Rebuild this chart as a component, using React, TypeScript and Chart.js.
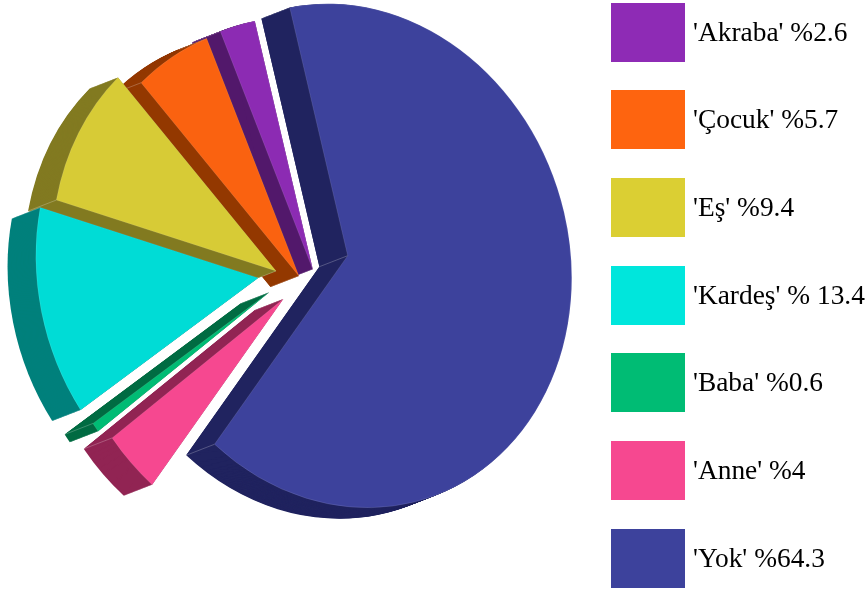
import React, { useEffect, useRef } from "react";
import { Chart, registerables } from "chart.js";

Chart.register(...registerables);

// Clockwise around the pie, starting from the largest slice.
const categories = ["Yok", "Anne", "Baba", "Kardeş", "Eş", "Çocuk", "Akraba"];
const values = [64.3, 4, 0.6, 13.4, 9.4, 5.7, 2.6];
const legendTexts = ["'Yok' %64.3", "'Anne' %4", "'Baba' %0.6", "'Kardeş' % 13.4", "'Eş' %9.4", "'Çocuk' %5.7", "'Akraba' %2.6"];
const faceColors = ["#3D429C", "#F64890", "#00BC74", "#00DCD6", "#D7CB36", "#FA6210", "#8C2BB3"];
const legendColors = ["#3D429C", "#F64890", "#00BC74", "#00E6DC", "#DBCF33", "#FE640F", "#8E2BB5"];
const sideColors = ["#20235F", "#912453", "#006B42", "#00807C", "#827A20", "#933800", "#52186B"];
// Pull-out of every slice and its size, as fractions of the radius.
const pullX = [0, -0.2875, -0.35, -0.4, -0.32, -0.218, -0.156];
const pullY = [0, 0.198, 0.177, 0.124, 0.0894, 0.1, 0.0679];
const radiusScale = [1, 0.985, 0.985, 0.992, 1, 0.998, 1];

// Projection of the flat pie on to the page.
const CENTER_X = 347.7;
const CENTER_Y = 255.7;
const AXIS_X = 224;
const SHEAR = 22.3;
const AXIS_Y = 251;
const DEPTH_X = -28.3;
const DEPTH_Y = 11;
const DEPTH_STEPS = 40;

function project(chart: any, ctx: CanvasRenderingContext2D, shiftX = 0, shiftY = 0) {
  const cx = (chart.chartArea.left + chart.chartArea.right) / 2;
  const cy = (chart.chartArea.top + chart.chartArea.bottom) / 2;
  const R = Math.min(chart.chartArea.width, chart.chartArea.height) / 2;
  const a = AXIS_X / R;
  const b = SHEAR / R;
  const d = AXIS_Y / R;
  ctx.transform(a, b, 0, d, CENTER_X + shiftX - a * cx, CENTER_Y + shiftY - b * cx - d * cy);
}

const pie3d = {
  id: "pie3d",
  beforeDatasetsDraw(chart: any) {
    const ctx: CanvasRenderingContext2D = chart.ctx;
    const arcs: any[] = chart.getDatasetMeta(0).data;
    const cx = (chart.chartArea.left + chart.chartArea.right) / 2;
    const cy = (chart.chartArea.top + chart.chartArea.bottom) / 2;
    const R = Math.min(chart.chartArea.width, chart.chartArea.height) / 2;
    arcs.forEach((arc: any, i: number) => {
      arc.x = cx + pullX[i] * R;
      arc.y = cy + pullY[i] * R;
      arc.outerRadius = R * radiusScale[i];
    });
    const toPage = (x: number, y: number) => {
      ctx.save();
      project(chart, ctx);
      const m = ctx.getTransform();
      ctx.restore();
      return [m.a * x + m.c * y + m.e, m.b * x + m.d * y + m.f];
    };
    // Side walls: the slice nearest the gap at the top goes first, so the next one lies over it.
    for (let i = arcs.length - 1; i >= 0; i--) {
      const arc = arcs[i];
      ctx.fillStyle = sideColors[i];
      for (let k = DEPTH_STEPS; k >= 1; k--) {
        ctx.save();
        project(chart, ctx, (DEPTH_X * k) / DEPTH_STEPS, (DEPTH_Y * k) / DEPTH_STEPS);
        ctx.beginPath();
        ctx.moveTo(arc.x, arc.y);
        ctx.arc(arc.x, arc.y, arc.outerRadius, arc.startAngle, arc.endAngle);
        ctx.closePath();
        ctx.fill();
        ctx.restore();
      }
      const [ax, ay] = toPage(arc.x, arc.y);
      const corners = [arc.startAngle, arc.endAngle].map((t: number) =>
        toPage(arc.x + arc.outerRadius * Math.cos(t), arc.y + arc.outerRadius * Math.sin(t)),
      );
      corners.forEach(([px, py]) => {
        ctx.beginPath();
        ctx.moveTo(ax, ay);
        ctx.lineTo(ax + DEPTH_X, ay + DEPTH_Y);
        ctx.lineTo(px + DEPTH_X, py + DEPTH_Y);
        ctx.lineTo(px, py);
        ctx.closePath();
        ctx.fill();
      });
      // Faint seams on the wall corners
      ctx.strokeStyle = "rgba(255,255,255,0.3)";
      ctx.lineWidth = 0.8;
      [[ax, ay], ...corners].forEach(([px, py]) => {
        ctx.beginPath();
        ctx.moveTo(px, py);
        ctx.lineTo(px + DEPTH_X, py + DEPTH_Y);
        ctx.stroke();
      });
    }
    ctx.save();
    project(chart, ctx);
  },
  afterDatasetsDraw(chart: any) {
    chart.ctx.restore();
  },
};

export default function App() {
  const ref = useRef<HTMLCanvasElement>(null);
  useEffect(() => {
    const chart = new Chart(ref.current!, {
      type: "pie",
      data: {
        labels: categories,
        datasets: [
          {
            data: values,
            backgroundColor: faceColors,
            borderWidth: 0.6,
            borderColor: "rgba(255,255,255,0.22)",
            clip: false,
          } as any,
        ],
      },
      options: {
        responsive: false,
        animation: false,
        rotation: -15,
        layout: { padding: 0 },
        plugins: { legend: { display: false }, tooltip: { enabled: false } },
      },
      plugins: [pie3d],
    });
    return () => chart.destroy();
  }, []);

  const order = categories.map((_, i) => categories.length - 1 - i);
  return (
    <div style={{ position: "fixed", left: 0, top: 0, width: 866, height: 592, background: "#fff", overflow: "hidden" }}>
      <canvas ref={ref} width={866} height={592} style={{ position: "absolute", left: 0, top: 0, display: "block" }} />
      {order.map((i, row) => (
        <div
          key={categories[i]}
          style={{
            position: "absolute",
            left: 611,
            top: Math.floor(3 + row * 87.67),
            height: 59,
            display: "flex",
            alignItems: "center",
            whiteSpace: "nowrap",
            fontFamily: "'Liberation Serif', serif",
            fontSize: 27.4,
            color: "#000",
          }}
        >
          <span style={{ display: "block", width: 74, height: 59, background: legendColors[i], marginRight: 8 }} />
          <span>{legendTexts[i]}</span>
        </div>
      ))}
    </div>
  );
}
